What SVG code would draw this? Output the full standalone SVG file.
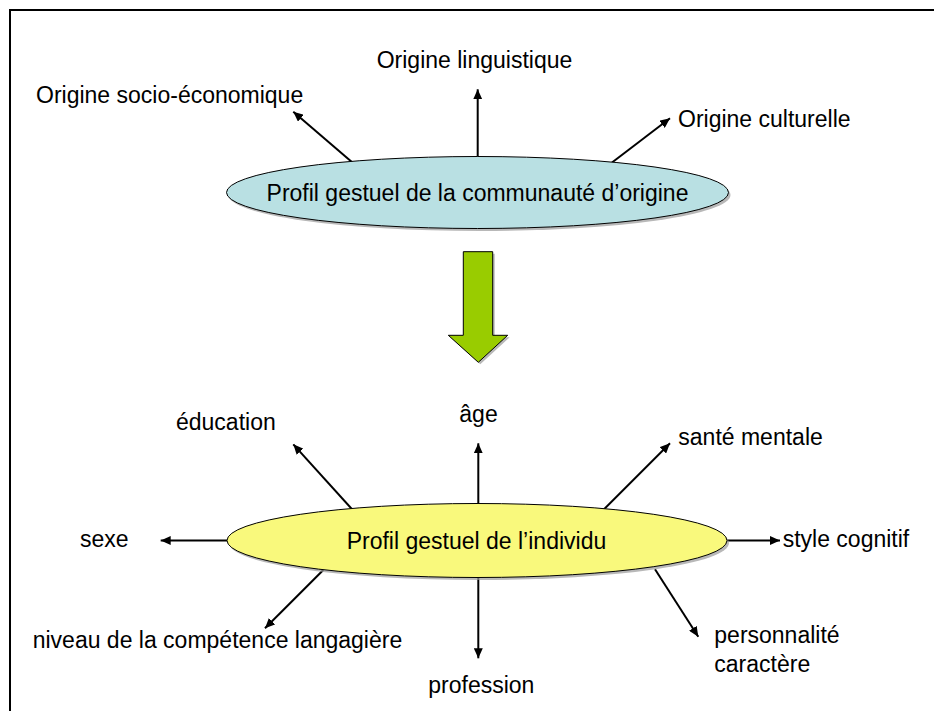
<svg xmlns="http://www.w3.org/2000/svg" width="934" height="711" viewBox="0 0 934 711">
<style>
  text { font-family: "Liberation Sans", Arial, sans-serif; font-size: 23px; fill: #000; }
  .conn { stroke: #000; stroke-width: 2; fill: none; marker-end: url(#ah); }
  .shadow { fill: #9a9a9a; opacity: 0.7; }
</style>
<defs>
  <marker id="ah" markerUnits="userSpaceOnUse" markerWidth="11" markerHeight="9" refX="10" refY="4.5" orient="auto">
    <path d="M0,0 L10,4.5 L0,9 z" fill="#000"/>
  </marker>
</defs>
<rect width="934" height="711" fill="#fff"/>
<path d="M10,711 V10 H934" fill="none" stroke="#000" stroke-width="2"/>

<g id="connectors">
  <line class="conn" x1="353.3" y1="163.3" x2="293.3" y2="111.7"/>
  <line class="conn" x1="477.7" y1="157" x2="477.7" y2="89.3"/>
  <line class="conn" x1="611.7" y1="162.7" x2="670" y2="118.3"/>
  <line class="conn" x1="352.7" y1="510" x2="293.3" y2="444.3"/>
  <line class="conn" x1="478.3" y1="503" x2="478.3" y2="443.3"/>
  <line class="conn" x1="603.3" y1="510" x2="670" y2="443.3"/>
  <line class="conn" x1="227.5" y1="540.5" x2="160.7" y2="540.5"/>
  <line class="conn" x1="727" y1="540.5" x2="780" y2="540.5"/>
  <line class="conn" x1="323.3" y1="570" x2="265" y2="628.3"/>
  <line class="conn" x1="478.3" y1="577" x2="478.3" y2="658.3"/>
  <line class="conn" x1="655" y1="569.3" x2="698.3" y2="636.7"/>
</g>

<g id="node-communaute">
  <ellipse class="shadow" cx="479.5" cy="195" rx="251" ry="36"/>
  <ellipse cx="477.5" cy="192.5" rx="251" ry="36" fill="#b9e0e3" stroke="#000" stroke-width="1"/>
  <text x="477.5" y="200.7" text-anchor="middle">Profil gestuel de la communauté d’origine</text>
</g>

<g id="node-individu">
  <ellipse class="shadow" cx="479" cy="543" rx="250" ry="37"/>
  <ellipse cx="477" cy="540.5" rx="250" ry="37" fill="#f9f97c" stroke="#000" stroke-width="1"/>
  <text x="346.7" y="549.3">Profil gestuel de l’individu</text>
</g>

<g id="big-arrow">
  <polygon class="shadow" points="465.3,253.7 494.7,253.7 494.7,337.3 509.7,337.3 480.3,364.3 450.3,337.3 465.3,337.3"/>
  <polygon points="463.3,251.7 492.7,251.7 492.7,335.3 507.7,335.3 478.3,362.3 448.3,335.3 463.3,335.3" fill="#99cc00" stroke="#000" stroke-width="1"/>
</g>

<g id="label-linguistique"><text x="376.7" y="67.5">Origine linguistique</text></g>
<g id="label-socio"><text x="36" y="103.3">Origine socio-économique</text></g>
<g id="label-culturelle"><text x="678" y="126.7">Origine culturelle</text></g>
<g id="label-education"><text x="176" y="430">éducation</text></g>
<g id="label-age"><text x="459.3" y="421.7">âge</text></g>
<g id="label-sante"><text x="678.3" y="445">santé mentale</text></g>
<g id="label-sexe"><text x="80" y="547.3">sexe</text></g>
<g id="label-style"><text x="782.7" y="546.7">style cognitif</text></g>
<g id="label-niveau"><text x="32.7" y="648.3">niveau de la compétence langagière</text></g>
<g id="label-profession"><text x="428.3" y="693.3">profession</text></g>
<g id="label-personnalite">
  <text x="714.3" y="643.3">personnalité</text>
  <text x="714.3" y="671.5">caractère</text>
</g>
</svg>
